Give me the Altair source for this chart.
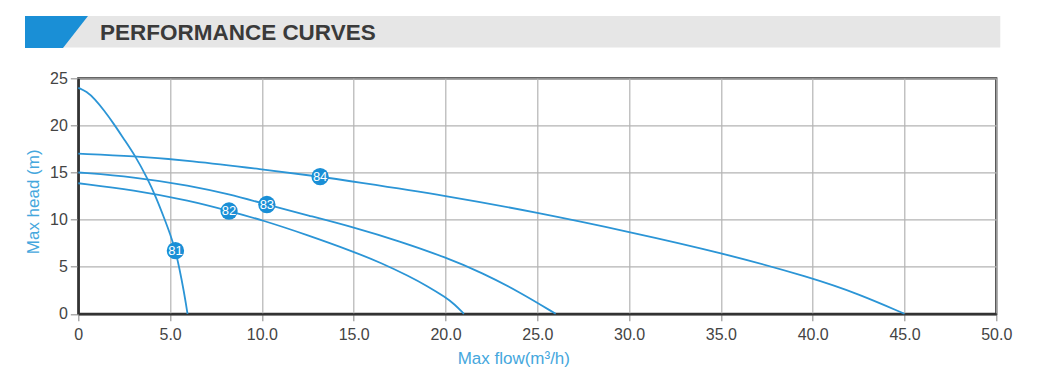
import altair as alt
import pandas as pd

# ---- data ----
q81 = [0, 0.45, 0.9, 1.4, 1.96, 2.5, 3.09, 3.76, 4.25, 4.69, 5.0, 5.29, 5.5, 5.75, 5.95]
h81 = [24, 23.6, 22.8, 21.6, 20.1, 18.5, 16.8, 14.4, 12.3, 10.1, 8.5, 6.7, 4.9, 2.4, 0]
q82 = [0, 3, 6.1, 8.21, 10, 12.5, 15, 16.5, 18, 19, 20, 20.5, 21]
h82 = [13.86, 13.15, 12.0, 10.91, 9.96, 8.35, 6.59, 5.4, 4.0, 2.95, 1.75, 1.0, 0]
q83 = [0, 3, 6.1, 8.2, 10.27, 12.5, 15, 17.5, 20, 22, 24, 26]
h83 = [15, 14.55, 13.6, 12.7, 11.6, 10.45, 9.18, 7.7, 6.0, 4.35, 2.35, 0]
q84 = [0, 3, 6.1, 10, 13.17, 15, 20, 25, 30, 35, 40, 42.5, 45]
h84 = [17, 16.75, 16.26, 15.34, 14.56, 14.03, 12.55, 10.75, 8.71, 6.5, 3.8, 2.1, 0]

label_names = ["81", "82", "83", "84"]
label_q = [5.29, 8.21, 10.27, 13.17]
label_h = [6.7, 10.91, 11.6, 14.56]

x_ticks = [0, 5, 10, 15, 20, 25, 30, 35, 40, 45, 50]
y_ticks = [0, 5, 10, 15, 20, 25]

title_text = "PERFORMANCE CURVES"
x_title = "Max flow(m³/h)"
y_title = "Max head (m)"

rows = []
for name, qs, hs in [("81", q81, h81), ("82", q82, h82), ("83", q83, h83), ("84", q84, h84)]:
    for i, (q, h) in enumerate(zip(qs, hs)):
        rows.append({"curve": name, "q": q, "h": h, "i": i})
curves = pd.DataFrame(rows)
labels = pd.DataFrame({"name": label_names, "q": label_q, "h": label_h})

LINE = "#2b95d6"
BLUE = "#1a8fd6"

xscale = alt.Scale(domain=[0, 50], nice=False, zero=False)
yscale = alt.Scale(domain=[0, 25], nice=False)

xaxis = alt.Axis(values=x_ticks, labelExpr="datum.value == 0 ? '0' : format(datum.value, '.1f')",
                 title=x_title, titleX=435, titleY=50, titleAlign="center", titleBaseline="alphabetic",
                 tickSize=7, labelPadding=6, labelFlush=False, labelOverlap=False)
yaxis = alt.Axis(values=y_ticks, title=y_title, titleX=-45, titleY=123, titleAlign="center",
                 titleBaseline="middle", tickSize=8, labelPadding=3, labelFlush=False, labelOverlap=False)

lines = alt.Chart(curves).mark_line(interpolate="basis", strokeWidth=1.8, color=LINE).encode(
    x=alt.X("q:Q", scale=xscale, axis=xaxis),
    y=alt.Y("h:Q", scale=yscale, axis=yaxis),
    detail="curve:N",
    order="i:Q",
)

dots = alt.Chart(labels).mark_circle(size=300, opacity=1, color=BLUE).encode(
    x=alt.X("q:Q", scale=xscale), y=alt.Y("h:Q", scale=yscale)
)
dot_text = alt.Chart(labels).mark_text(color="white", fontSize=13, font="Liberation Sans",
                                       baseline="middle", align="center").encode(
    x=alt.X("q:Q", scale=xscale), y=alt.Y("h:Q", scale=yscale), text="name:N"
)

dummy = alt.Data(values=[{"a": 1}])
band = alt.Chart(dummy).mark_rect(color="#e6e6e6").encode(
    x=alt.value(-18), x2=alt.value(922), y=alt.value(-62.3), y2=alt.value(-30.8)
)
tab = alt.Chart(dummy).mark_point(
    shape="M-0.984,-0.5L0.984,-0.5L0.203,0.5L-0.984,0.5Z", filled=True, size=4096,
    color=BLUE, opacity=1, strokeWidth=0
).encode(x=alt.value(-21.8), y=alt.value(-46.3))
head = alt.Chart(dummy).mark_text(text=title_text, font="Liberation Sans", fontWeight="bold",
                                  fontSize=22.5, color="#3a3a3a", align="left",
                                  baseline="alphabetic").encode(
    x=alt.value(21.7), y=alt.value(-38.3)
)

chart = alt.layer(band, tab, head, lines, dots, dot_text).properties(
    width=918, height=235.5,
    autosize=alt.AutoSizeParams(type="none"),
    padding={"left": 70.3, "top": 70.3, "right": 30, "bottom": 62},
).configure_axis(
    grid=True, gridColor="#b3b3b3", gridWidth=1.2,
    domainColor="#333333", domainWidth=2.2,
    tickColor="#999999", tickWidth=1.2,
    labelFont="Liberation Sans", labelFontSize=16, labelColor="#444444",
    titleFont="Liberation Sans", titleFontSize=17, titleColor="#45a7dd", titleFontWeight="normal",
).configure_view(stroke="#333333", strokeWidth=2.2)

chart.save("out.html", embed_options={"renderer": "svg", "actions": False})
